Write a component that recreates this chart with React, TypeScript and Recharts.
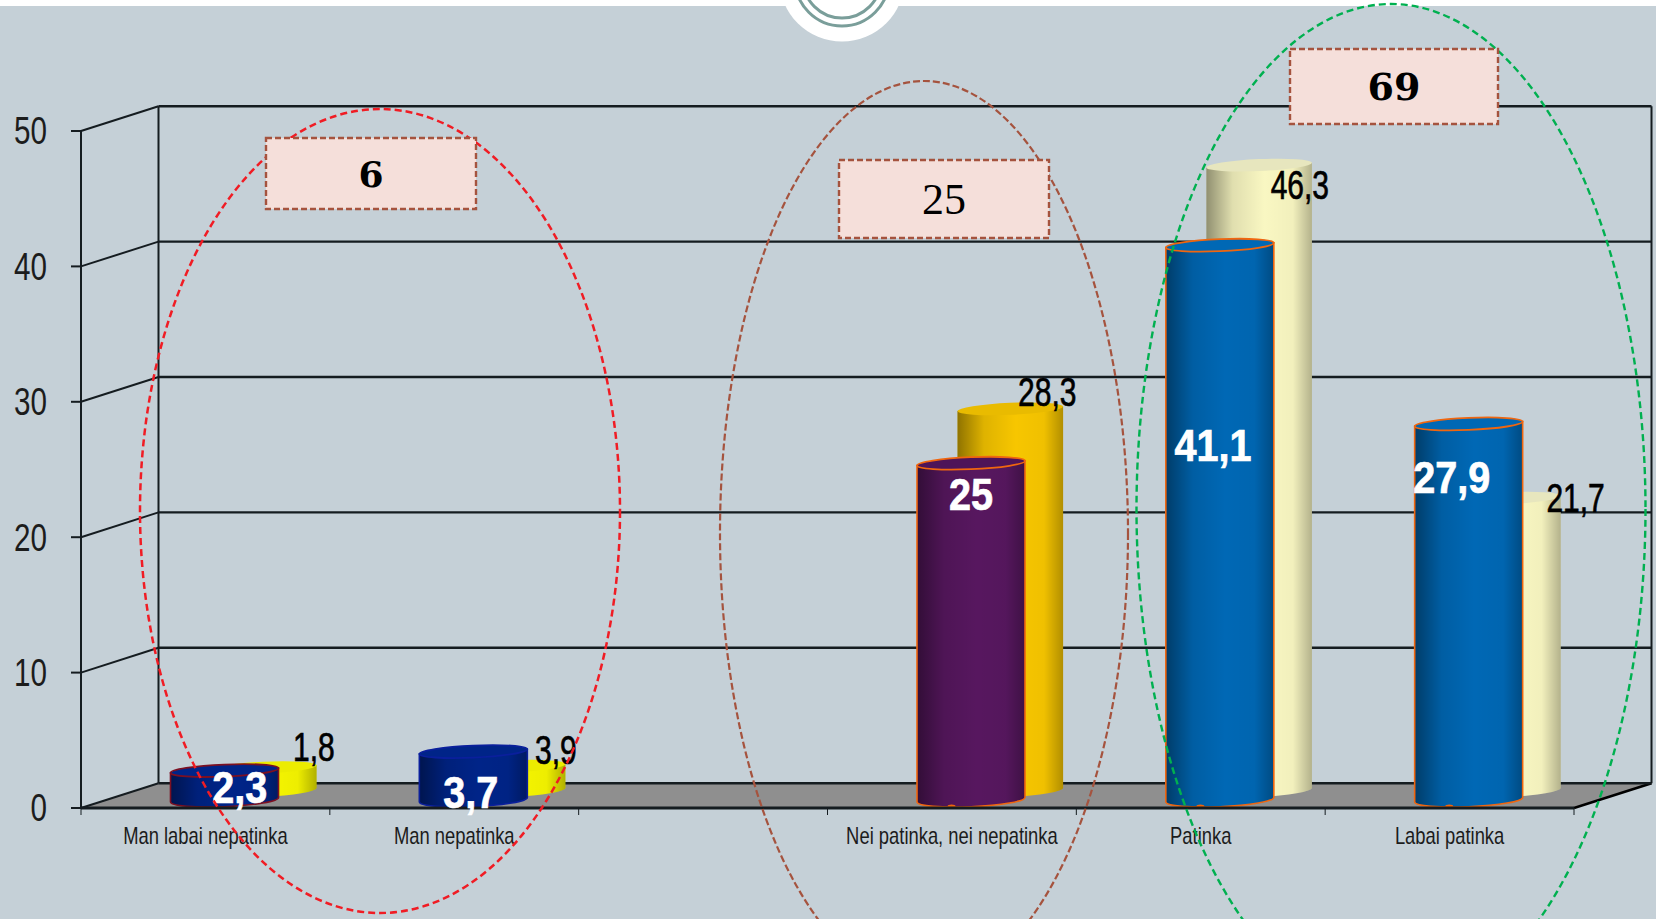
import React from 'react';
import {
  Bar,
  CartesianGrid,
  ComposedChart,
  LabelList,
  XAxis,
  YAxis,
} from 'recharts';

const categories = [
  'Man labai nepatinka',
  'Man nepatinka',
  '',
  'Nei patinka, nei nepatinka',
  'Patinka',
  'Labai patinka',
];
const frontValues = [2.3, 3.7, null, 25, 41.1, 27.9];
// the yellow bar over "3,9" is drawn about as tall as the one over "1,8"
const backValues = [1.8, 1.9, null, 28.3, 46.3, 21.7];
const frontLabels = ['2,3', '3,7', '', '25', '41,1', '27,9'];
const backLabels = ['1,8', '3,9', '', '28,3', '46,3', '21,7'];
const yTicks = [0, 10, 20, 30, 40, 50];

const chartData = categories.map((category, i) => ({
  category,
  front: frontValues[i],
  back: backValues[i],
  frontLabel: frontLabels[i],
  backLabel: backLabels[i],
}));

const WIDTH = 1656;
const HEIGHT = 919;
const PLOT = { left: 81, right: 1574, top: 131, bottom: 808 };
const BAND = (PLOT.right - PLOT.left) / categories.length;
const DEPTH = { x: 77.5, y: -24.8 };
const SANS = '"Liberation Sans", Arial, sans-serif';
const LINE = '#151c20';

const FRONT_STYLE = {
  dx: 19.5,
  dy: -6.3,
  fills: ['#002488', '#002488', '', '#57175f', '#0068b5', '#0068b5'],
  tops: ['#002488', '#002488', '', '#4e1458', '#0068b5', '#0068b5'],
  strokes: ['#7c1022', '#0a1f9c', '', '#f0660f', '#f0660f', '#f0660f'],
};
const BACK_STYLE = {
  dx: 58,
  dy: -16,
  fills: ['#f5f500', '#f5f500', '', '#f7c600', '#f9f7c2', '#f9f7c2'],
  tops: ['#ecec00', '#ecec00', '', '#e9bb00', '#e7e6be', '#e7e6be'],
  strokes: ['none', 'none', '', 'none', 'none', 'none'],
};

const FRONT_NUDGE = [
  [15.3, 17.4],
  [-2.6, 41],
  [0, 0],
  [0, 31.2],
  [-6.9, 200.6],
  [-16.9, 53.5],
];
const BACK_NUDGE = [
  [50, -21],
  [43.3, -16.5],
  [0, 0],
  [37, -17],
  [40.7, 19.6],
  [67.6, -0.8],
];

// the source type is a squeezed Arial Narrow, which is not installed here
const Squeezed = ({ x, y, sx, anchor = 'middle', children, ...rest }: any) => (
  <text
    transform={`translate(${x} ${y}) scale(${sx} 1)`}
    textAnchor={anchor}
    dominantBaseline="central"
    fontFamily={SANS}
    {...rest}
  >
    {children}
  </text>
);

const Cylinder = (props: any) => {
  const { x, y, width, height, payload, look } = props;
  if (height == null || !width) return null;
  const index = categories.indexOf(payload.category);
  const cx = x + width / 2 + look.dx;
  const top = y + look.dy;
  const base = y + height + look.dy - 2;
  const rx = width / 2;
  const ry = 6;
  const tilt = -2.5;
  const slope = rx * Math.tan((2.5 * Math.PI) / 180);
  const body =
    `M${cx - rx},${top + slope} L${cx - rx},${base + slope} ` +
    `A${rx},${ry + 1} ${tilt} 0 0 ${cx + rx},${base - slope} ` +
    `L${cx + rx},${top - slope} Z`;
  const stroke = look.strokes[index];
  return (
    <g>
      <path d={body} fill={look.fills[index]} />
      <path d={body} fill="url(#cylinderShade)" stroke={stroke} strokeWidth={1.6} />
      <ellipse
        cx={cx}
        cy={top}
        rx={rx}
        ry={ry}
        fill={look.tops[index]}
        stroke={stroke}
        strokeWidth={1.8}
        transform={`rotate(${tilt} ${cx} ${top})`}
      />
      {stroke === '#f0660f' && (
        <ellipse cx={cx - rx * 0.36} cy={base + ry + 0.5} rx={4} ry={1.8} fill={stroke} />
      )}
    </g>
  );
};

const barLabel =
  (look: any, labels: string[], nudge: number[][], color: string, size: number, sx: number, weight: string) =>
  (props: any) => {
    const { x, y, width, value } = props;
    if (!value) return null;
    const index = labels.indexOf(value);
    return (
      <Squeezed
        x={x + width / 2 + look.dx + nudge[index][0]}
        y={y + look.dy + nudge[index][1]}
        sx={sx}
        fill={color}
        stroke={color}
        strokeWidth={0.7}
        fontSize={size}
        fontWeight={weight}
      >
        {value}
      </Squeezed>
    );
  };

const CategoryTick = (props: any) => {
  const { x, payload, index } = props;
  const left = x - BAND / 2;
  return (
    <g>
      <line x1={left} y1={PLOT.bottom} x2={left} y2={PLOT.bottom + 7} stroke={LINE} />
      {index === categories.length - 1 && (
        <line x1={left + BAND} y1={PLOT.bottom} x2={left + BAND} y2={PLOT.bottom + 7} stroke={LINE} />
      )}
      <Squeezed x={x} y={PLOT.bottom + 28} sx={0.8} fontSize={23} fill="#1c1c1c">
        {payload.value}
      </Squeezed>
    </g>
  );
};

const ValueTick = (props: any) => (
  <Squeezed x={props.x} y={props.y} sx={0.78} anchor="end" fontSize={38} fill="#1c1c1c">
    {props.payload.value}
  </Squeezed>
);

// back wall line plus the slanted side wall line for one y tick
const WallLine = (props: any) => {
  const { x1, x2, y1, key } = props;
  return (
    <g key={key}>
      <line
        x1={x1 + DEPTH.x}
        x2={x2 + DEPTH.x}
        y1={y1 + DEPTH.y}
        y2={y1 + DEPTH.y}
        stroke={LINE}
        strokeWidth={2.4}
      />
      <line
        x1={x1}
        x2={x1 + DEPTH.x}
        y1={y1}
        y2={y1 + DEPTH.y}
        stroke={LINE}
        strokeWidth={2}
      />
    </g>
  );
};

const Backdrop = () => {
  const b = PLOT.bottom;
  const r = PLOT.right;
  const l = PLOT.left;
  return (
    <svg width={WIDTH} height={HEIGHT} style={{ position: 'absolute', left: 0, top: 0 }}>
      <polygon
        points={`${l},${b} ${l + DEPTH.x},${b + DEPTH.y} ${r + DEPTH.x},${b + DEPTH.y} ${r},${b}`}
        fill="#8f8f8f"
      />
      <line x1={l + DEPTH.x} x2={l + DEPTH.x} y1={PLOT.top + DEPTH.y} y2={b + DEPTH.y} stroke={LINE} strokeWidth={2} />
      <line x1={r + DEPTH.x} x2={r + DEPTH.x} y1={PLOT.top + DEPTH.y} y2={b + DEPTH.y} stroke={LINE} strokeWidth={2} />
      <line x1={r} x2={r + DEPTH.x} y1={b} y2={b + DEPTH.y} stroke="#000" strokeWidth={2.5} />
    </svg>
  );
};

const NoteBox = ({ x, y, w, h, text, font, weight, size }: any) => (
  <g>
    <rect x={x} y={y} width={w} height={h} fill="#f5dfda" stroke="#a5533e" strokeWidth={2.4} strokeDasharray="6 3" />
    <text
      x={x + w / 2}
      y={y + h / 2}
      textAnchor="middle"
      dominantBaseline="central"
      fontFamily={font}
      fontWeight={weight}
      fontSize={size}
      fill="#000"
    >
      {text}
    </text>
  </g>
);

const Overlay = () => (
  <svg width={WIDTH} height={HEIGHT} style={{ position: 'absolute', left: 0, top: 0 }}>
    <rect x={0} y={0} width={WIDTH} height={6} fill="#fff" />
    <circle cx={842} cy={-21} r={62.6} fill="#fff" />
    <circle cx={842} cy={-21} r={47} fill="none" stroke="#7a9e9a" strokeWidth={3} />
    <circle cx={842} cy={-21} r={39} fill="none" stroke="#7a9e9a" strokeWidth={3} />
    <ellipse cx={380} cy={511} rx={240} ry={402} fill="none" stroke="#f01c24" strokeWidth={2.5} strokeDasharray="7 4" />
    <ellipse cx={924} cy={533} rx={204} ry={452} fill="none" stroke="#a5533e" strokeWidth={2.2} strokeDasharray="7 3" />
    <ellipse cx={1391} cy={509} rx={254.5} ry={505} fill="none" stroke="#00b050" strokeWidth={2.4} strokeDasharray="7 4" />
    <NoteBox x={266} y={138} w={210} h={71} text="6" font='"DejaVu Serif", serif' weight="bold" size={36} />
    <NoteBox x={839} y={160} w={210} h={78} text="25" font='"Liberation Serif", serif' weight="normal" size={44} />
    <NoteBox x={1290} y={49} w={208} h={75} text="69" font='"DejaVu Serif", serif' weight="bold" size={38} />
  </svg>
);

export default function App() {
  return (
    <div
      style={{
        position: 'absolute',
        left: 0,
        top: 0,
        width: WIDTH,
        height: HEIGHT,
        overflow: 'hidden',
        background: '#c5d0d7',
      }}
    >
      <Backdrop />
      <div style={{ position: 'absolute', left: 0, top: 0 }}>
        <ComposedChart
          width={WIDTH}
          height={HEIGHT}
          data={chartData}
          margin={{ top: PLOT.top, right: WIDTH - PLOT.right, bottom: 0, left: 0 }}
        >
          <defs>
            <linearGradient id="cylinderShade" x1="0" x2="1" y1="0" y2="0">
              <stop offset="0" stopColor="#000" stopOpacity={0.42} />
              <stop offset="0.25" stopColor="#000" stopOpacity={0.1} />
              <stop offset="0.55" stopColor="#000" stopOpacity={0} />
              <stop offset="0.82" stopColor="#000" stopOpacity={0.03} />
              <stop offset="1" stopColor="#000" stopOpacity={0.28} />
            </linearGradient>
          </defs>
          <CartesianGrid xAxisId="front" vertical={false} horizontal={WallLine} />
          <XAxis
            xAxisId="front"
            dataKey="category"
            height={HEIGHT - PLOT.bottom}
            interval={0}
            tickLine={false}
            tick={CategoryTick}
            axisLine={{ stroke: LINE, strokeWidth: 3 }}
          />
          <XAxis xAxisId="back" dataKey="category" height={0} hide />
          <YAxis
            domain={[0, 50]}
            ticks={yTicks}
            width={PLOT.left}
            tickSize={10}
            tickMargin={24}
            axisLine={{ stroke: LINE, strokeWidth: 2 }}
            tickLine={{ stroke: LINE, strokeWidth: 2 }}
            tick={ValueTick}
          />
          <Bar
            xAxisId="back"
            dataKey="back"
            barSize={105.6}
            isAnimationActive={false}
            shape={(p: any) => <Cylinder {...p} look={BACK_STYLE} />}
          >
            <LabelList
              dataKey="backLabel"
              content={barLabel(BACK_STYLE, backLabels, BACK_NUDGE, '#000', 40, 0.75, 'normal')}
            />
          </Bar>
          <Bar
            xAxisId="front"
            dataKey="front"
            barSize={108}
            isAnimationActive={false}
            shape={(p: any) => <Cylinder {...p} look={FRONT_STYLE} />}
          >
            <LabelList
              dataKey="frontLabel"
              content={barLabel(FRONT_STYLE, frontLabels, FRONT_NUDGE, '#fff', 44, 0.9, 'bold')}
            />
          </Bar>
        </ComposedChart>
      </div>
      <Overlay />
    </div>
  );
}
